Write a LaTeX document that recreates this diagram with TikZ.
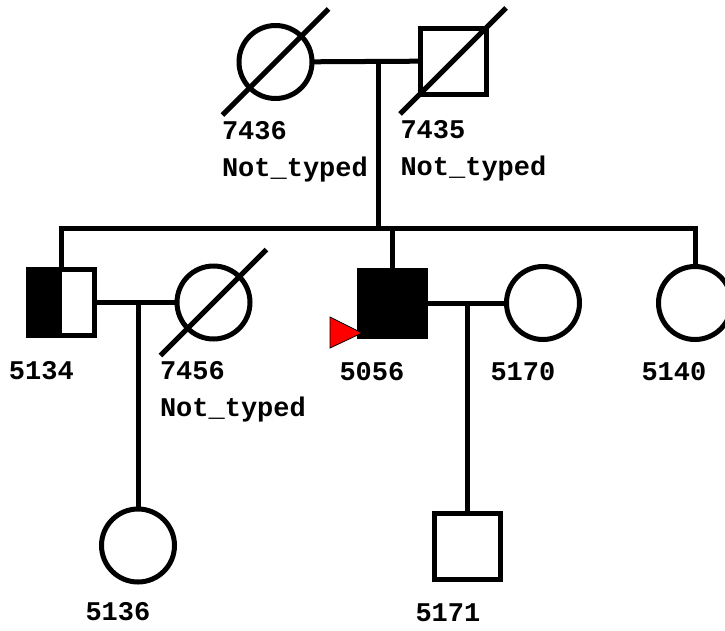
\documentclass[tikz,border=0pt]{standalone}
\usepackage{fontspec}
\setmonofont{Liberation Mono}
\usetikzlibrary{calc}

\begin{document}
\begin{tikzpicture}[
    x=1pt, y=-1pt,
    line width=5pt,
    female/.style={draw, circle, minimum size=73pt, inner sep=0pt, outer sep=0pt, fill=white},
    male/.style={draw, rectangle, minimum size=66pt, inner sep=0pt, outer sep=0pt, fill=white},
    affected/.style={fill=black},
    halfaffected/.style={path picture={\fill[black] (path picture bounding box.south west)
                         rectangle (path picture bounding box.north);}},
    link/.style={line width=5pt},
    slash/.style={line width=5pt},
    idlabel/.style={anchor=base west, inner sep=0pt,
                    font=\fontsize{27}{30}\selectfont\ttfamily\bfseries},
]
\useasboundingbox (0,0) rectangle (725,630);

% --- Generation I ---
\node[female] (p7436) at (275.5,62) {};
\node[male]   (p7435) at (453,61) {};

% --- Generation II ---
\node[male, halfaffected] (p5134) at (61.5,302.5) {};
\node[female] (p7456) at (213.5,302.5) {};
\node[male, affected] (p5056) at (392,303) {};
\node[female] (p5170) at (543,303) {};
\node[female] (p5140) at (695,303) {};

% --- Generation III ---
\node[female] (p5136) at (138,545.5) {};
\node[male]   (p5171) at (467,546) {};

% Mating and sibship lines
\coordinate (m1) at (378,61);
\coordinate (sib) at (378,228);
\coordinate (m2) at (138,302.5);
\coordinate (m3) at (467,303);

\draw[link] (p7436) -- (p7435);
\draw[link] (m1) -- (sib);
\draw[link] (p5134.north) |- (sib) -| (p5140.north);
\draw[link] (p5056.north) -- (p5056.north |- sib);

\draw[link] (p5134) -- (p7456);
\draw[link] (m2) -- (p5136.north);

\draw[link] (p5056) -- (p5170);
\draw[link] (m3) -- (p5171.north);

% Deceased
\foreach \who in {p7436, p7435, p7456}
    \draw[slash] ($(\who)+(-53,53)$) -- ($(\who)+(53,-53)$);

% Proband arrow
\filldraw[fill=red, draw=black, line width=0.8pt]
    ($(p5056)+(-30,30)$) -- ++(-32,-16) -- ++(0,31) -- cycle;

% IDs
\node[idlabel] (t7436) at ($(p7436)+(-56,77)$) {7436};
\node[idlabel] (n7436) at ($(p7436)+(-56,114)$) {Not\_typed};
\node[idlabel] (t7435) at ($(p7435)+(-55,77)$) {7435};
\node[idlabel] (n7435) at ($(p7435)+(-55,114)$) {Not\_typed};
\node[idlabel] (t5134) at ($(p5134)+(-55,77)$) {5134};
\node[idlabel] (t7456) at ($(p7456)+(-56,77)$) {7456};
\node[idlabel] (n7456) at ($(p7456)+(-56,114)$) {Not\_typed};
\node[idlabel] (t5056) at ($(p5056)+(-55,77)$) {5056};
\node[idlabel] (t5170) at ($(p5170)+(-55,77)$) {5170};
\node[idlabel] (t5140) at ($(p5140)+(-56,77)$) {5140};
\node[idlabel] (t5136) at ($(p5136)+(-55,75)$) {5136};
\node[idlabel] (t5171) at ($(p5171)+(-54,75)$) {5171};

\end{tikzpicture}
\end{document}
